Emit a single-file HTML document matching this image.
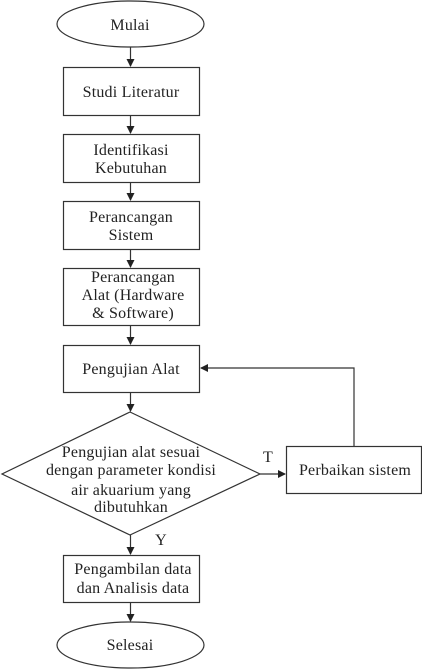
<!DOCTYPE html>
<html><head><meta charset="utf-8"><style>
html,body{margin:0;padding:0;background:#fff;}
svg{display:block;}
text{font-family:"Liberation Serif",serif;font-size:16px;letter-spacing:0.2px;fill:#222;text-anchor:middle;}
</style></head><body>
<svg width="422" height="671" viewBox="0 0 422 671" xmlns="http://www.w3.org/2000/svg">
<defs><marker id="a" markerWidth="8" markerHeight="8" refX="7" refY="4" orient="auto" markerUnits="userSpaceOnUse"><path d="M0,0 L8,4 L0,8 Z" fill="#222"/></marker></defs>
<g stroke="#333" stroke-width="1.2" fill="none">
<ellipse cx="130.5" cy="24" rx="73.5" ry="23"/>
<rect x="63.5" y="67.5" width="136" height="48"/>
<rect x="63.5" y="134.5" width="136" height="48"/>
<rect x="63.5" y="201.5" width="136" height="48"/>
<rect x="63.5" y="268.5" width="136" height="57"/>
<rect x="63.5" y="345.5" width="136" height="47"/>
<polygon points="130,412 260,474 130,535 2,474"/>
<rect x="286.5" y="446.5" width="135" height="47"/>
<rect x="63.5" y="555.5" width="136" height="47"/>
<ellipse cx="130.5" cy="645" rx="73.5" ry="23"/>
<line x1="130.5" y1="47" x2="130.5" y2="66" marker-end="url(#a)"/>
<line x1="130.5" y1="116" x2="130.5" y2="133" marker-end="url(#a)"/>
<line x1="130.5" y1="183" x2="130.5" y2="200" marker-end="url(#a)"/>
<line x1="130.5" y1="250" x2="130.5" y2="267" marker-end="url(#a)"/>
<line x1="130.5" y1="326" x2="130.5" y2="344" marker-end="url(#a)"/>
<line x1="130.5" y1="393" x2="130.5" y2="411" marker-end="url(#a)"/>
<line x1="260" y1="474" x2="285" y2="474" marker-end="url(#a)"/>
<polyline points="354,446 354,368 201,368" marker-end="url(#a)"/>
<line x1="130.5" y1="535" x2="130.5" y2="554" marker-end="url(#a)"/>
<line x1="130.5" y1="603" x2="130.5" y2="621" marker-end="url(#a)"/>
</g>
<text x="130" y="30">Mulai</text>
<text x="131" y="97">Studi Literatur</text>
<text x="131" y="155">Identifikasi</text>
<text x="131" y="173">Kebutuhan</text>
<text x="131" y="222">Perancangan</text>
<text x="131" y="240">Sistem</text>
<text x="133" y="282">Perancangan</text>
<text x="133" y="300">Alat (Hardware</text>
<text x="133" y="318">&amp; Software)</text>
<text x="131" y="374">Pengujian Alat</text>
<text x="131" y="457">Pengujian alat sesuai</text>
<text x="131" y="475">dengan parameter kondisi</text>
<text x="131" y="495">air akuarium yang</text>
<text x="131" y="512">dibutuhkan</text>
<text x="268" y="462">T</text>
<text x="161" y="545">Y</text>
<text x="355" y="475">Perbaikan sistem</text>
<text x="133" y="574">Pengambilan data</text>
<text x="133" y="593">dan Analisis data</text>
<text x="130" y="650">Selesai</text>
</svg>
</body></html>
